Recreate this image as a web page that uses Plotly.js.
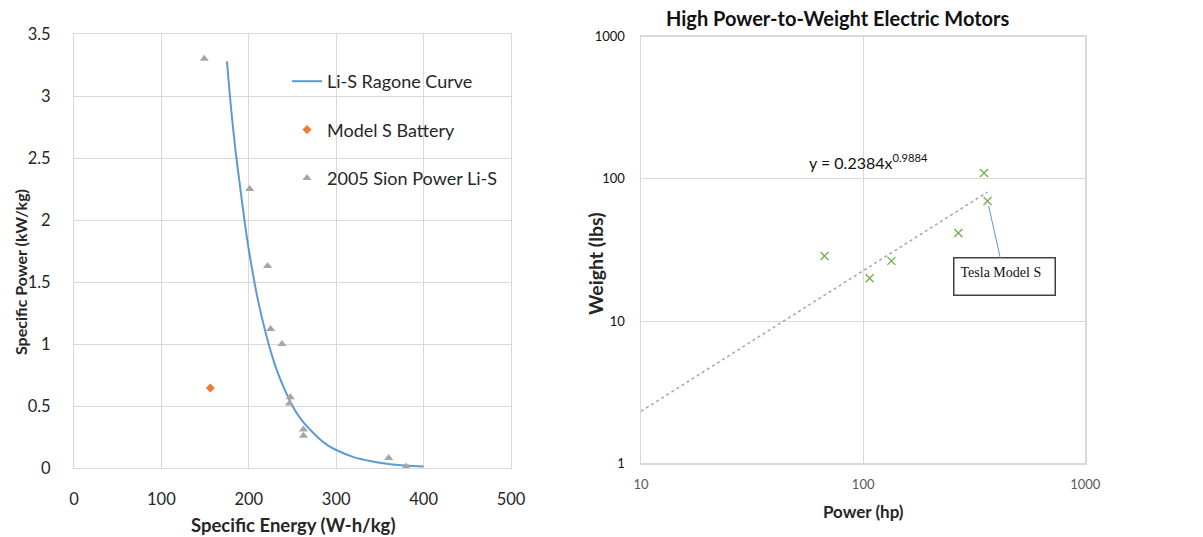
<!DOCTYPE html>
<html>
<head>
<meta charset="utf-8">
<script src="https://cdn.plot.ly/plotly-3.0.1.min.js"></script>
<style>
  html, body { margin: 0; padding: 0; background: #ffffff; }
  #chart { width: 1203px; height: 537px; }
</style>
</head>
<body>
<div id="chart"></div>
<script>
// Li-S Ragone curve (specific energy W-h/kg vs specific power kW/kg)
var ragoneEnergy = [175, 180, 185, 190, 195, 200, 210, 220, 230, 240, 250, 260, 270, 280, 290, 300, 320, 340, 360, 380, 400];
var ragonePower  = [3.28, 2.88, 2.55, 2.27, 2.00, 1.76, 1.37, 1.07, 0.83, 0.65, 0.50, 0.39, 0.31, 0.24, 0.185, 0.145, 0.088, 0.055, 0.033, 0.020, 0.012];

// Tesla Model S battery pack
var modelSEnergy = [156];
var modelSPower  = [0.645];

// 2005 Sion Power Li-S cells
var sionEnergy = [149, 201, 221.5, 225, 238, 247.5, 246.5, 262.5, 262.5, 360, 380];
var sionPower  = [3.30, 2.25, 1.63, 1.12, 1.00, 0.57, 0.52, 0.31, 0.26, 0.08, 0.01];

// Electric motors: power (hp) vs weight (lbs)
var motorPower  = [67, 107, 134, 268, 350, 363];
var motorWeight = [28.7, 20.0, 26.5, 41.7, 110, 70];
var teslaIndex = 5;

// Power-law fit of the motor data
var fitCoef = 0.2384;
var fitExp = 0.9884;
var fitX = [10, 363];
var fitY = fitX.map(function (x) { return fitCoef * Math.pow(x, fitExp); });

var W = 1203, H = 537;
function px(x) { return x / W; }
function py(y) { return 1 - y / H; }

var FONT = 'Lato, "Open Sans", sans-serif';
var GRID = '#d9d9d9';

var traces = [
  {
    x: ragoneEnergy, y: ragonePower, type: 'scatter', mode: 'lines',
    name: 'Li-S Ragone Curve', legendgroup: 'a',
    line: { color: '#5b9bd5', width: 2, shape: 'spline', smoothing: 1 },
    xaxis: 'x', yaxis: 'y'
  },
  {
    x: modelSEnergy, y: modelSPower, type: 'scatter', mode: 'markers',
    name: 'Model S Battery', legendgroup: 'b',
    marker: { symbol: 'diamond', size: 7, color: '#ed7d31' },
    xaxis: 'x', yaxis: 'y'
  },
  {
    x: sionEnergy, y: sionPower, type: 'scatter', mode: 'markers',
    name: '2005 Sion Power Li-S', legendgroup: 'c',
    marker: { symbol: 'triangle-up', size: 8, color: '#a5a5a5' },
    xaxis: 'x', yaxis: 'y'
  },
  {
    x: fitX, y: fitY, type: 'scatter', mode: 'lines', showlegend: false,
    line: { color: '#a6a6a6', width: 1.5, dash: 'dot' },
    xaxis: 'x2', yaxis: 'y2'
  },
  {
    x: motorPower, y: motorWeight, type: 'scatter', mode: 'markers', showlegend: false,
    marker: { symbol: 'x-thin-open', size: 8, color: '#70ad47', line: { color: '#70ad47', width: 1.3 } },
    xaxis: 'x2', yaxis: 'y2'
  }
];

var layout = {
  width: W, height: H,
  margin: { l: 0, r: 0, t: 0, b: 0 },
  paper_bgcolor: '#ffffff', plot_bgcolor: '#ffffff',
  font: { family: FONT, color: '#262626' },
  showlegend: true,
  legend: {
    x: px(287), y: py(63), xanchor: 'left', yanchor: 'top',
    bgcolor: 'rgba(0,0,0,0)', traceorder: 'grouped', tracegroupgap: 22,
    font: { family: FONT, size: 18, color: '#262626' }
  },
  xaxis: {
    domain: [px(74), px(511)], range: [0, 500], dtick: 100, tick0: 0,
    showgrid: true, gridcolor: GRID, zeroline: false,
    showline: true, mirror: true, linecolor: GRID, linewidth: 1,
    ticks: '', ticklabelstandoff: 16,
    tickfont: { family: FONT, size: 16.5, color: '#262626' },
    anchor: 'y', fixedrange: true
  },
  yaxis: {
    domain: [py(468), py(34)], range: [0, 3.5], dtick: 0.5, tick0: 0,
    showgrid: true, gridcolor: GRID, zeroline: false,
    showline: true, mirror: true, linecolor: GRID, linewidth: 1,
    ticks: '', ticklabelstandoff: 19,
    tickfont: { family: FONT, size: 16.5, color: '#262626' },
    anchor: 'x', fixedrange: true
  },
  xaxis2: {
    type: 'log', domain: [px(641), px(1085.3)], range: [1, 3],
    tickvals: [10, 100, 1000], ticktext: ['10', '100', '1000'],
    showgrid: true, gridcolor: GRID, zeroline: false,
    showline: true, mirror: true, linecolor: GRID, linewidth: 1.5,
    ticks: '', ticklabelstandoff: 9,
    tickfont: { family: FONT, size: 13, color: '#595959' },
    anchor: 'y2', fixedrange: true
  },
  yaxis2: {
    type: 'log', domain: [py(463.3), py(36.7)], range: [0, 3],
    tickvals: [1, 10, 100, 1000], ticktext: ['1', '10', '100', '1000'],
    showgrid: true, gridcolor: GRID, zeroline: false,
    showline: true, mirror: true, linecolor: GRID, linewidth: 1.5,
    ticks: '', ticklabelstandoff: 12,
    tickfont: { family: FONT, size: 13, color: '#111111' },
    anchor: 'x2', fixedrange: true
  },
  annotations: [
    {
      text: '<b>Specific Energy (W-h/kg)</b>', xref: 'paper', yref: 'paper',
      x: px(292.5), y: py(525), xanchor: 'center', yanchor: 'middle', showarrow: false,
      font: { family: FONT, size: 18.5, color: '#262626' }
    },
    {
      text: '<b>Specific Power (kW/kg)</b>', xref: 'paper', yref: 'paper',
      x: px(20), y: py(272), xanchor: 'center', yanchor: 'middle', showarrow: false, textangle: -90,
      font: { family: FONT, size: 16, color: '#262626' }
    },
    {
      text: '<b>High Power-to-Weight Electric Motors</b>', xref: 'paper', yref: 'paper',
      x: px(837), y: py(18), xanchor: 'center', yanchor: 'middle', showarrow: false,
      font: { family: FONT, size: 20, color: '#111111' }
    },
    {
      text: '<b>Power (hp)</b>', xref: 'paper', yref: 'paper',
      x: px(863), y: py(511), xanchor: 'center', yanchor: 'middle', showarrow: false,
      font: { family: FONT, size: 17, color: '#262626' }
    },
    {
      text: '<b>Weight (lbs)</b>', xref: 'paper', yref: 'paper',
      x: px(596), y: py(264), xanchor: 'center', yanchor: 'middle', showarrow: false, textangle: -90,
      font: { family: FONT, size: 19.5, color: '#262626' }
    },
    {
      text: 'y = ' + fitCoef + 'x<sup>' + fitExp + '</sup>', xref: 'x2', yref: 'y2',
      x: Math.log10(106), y: Math.log10(132), xanchor: 'center', yanchor: 'middle', showarrow: false,
      font: { family: FONT, size: 16, color: '#111111' }
    },
    {
      text: 'Tesla Model S', xref: 'x2', yref: 'y2',
      x: Math.log10(motorPower[teslaIndex]), y: Math.log10(motorWeight[teslaIndex]),
      showarrow: true, arrowhead: 0, arrowwidth: 1, arrowcolor: '#5b9bd5', standoff: 5,
      ax: 17, ay: 76, axref: 'pixel', ayref: 'pixel',
      width: 88, height: 24, align: 'left', valign: 'top', borderpad: 6,
      bordercolor: '#404040', borderwidth: 1.5, bgcolor: '#ffffff',
      font: { family: '"Liberation Serif", "Times New Roman", serif', size: 14, color: '#111111' }
    }
  ]
};

Plotly.newPlot('chart', traces, layout, { displayModeBar: false, staticPlot: true });
</script>
</body>
</html>
